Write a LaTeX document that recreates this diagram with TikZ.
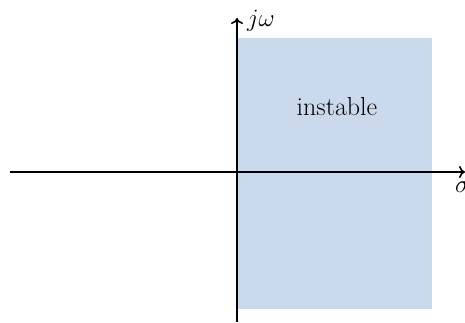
\documentclass[tikz,border=0pt]{standalone}
\usetikzlibrary{arrows.meta}
\definecolor{regionblue}{RGB}{203,217,236}
\begin{document}
\begin{tikzpicture}[x=1pt,y=1pt,
  axis/.style={line width=2.2pt,-{To[length=6pt,width=12pt,line width=1.6pt]}},
  lbl/.style={font=\fontsize{26}{30}\selectfont, inner sep=0pt}]
\useasboundingbox (0,0) rectangle (465,322);
\fill[regionblue] (237,13) rectangle (432,284);
\coordinate (xs) at (10,150);
\coordinate (xe) at (465,150);
\coordinate (ys) at (237,0);
\coordinate (ye) at (237,304);
\draw[axis] (xs) -- (xe);
\draw[axis] (ys) -- (ye);
\node[lbl] (inst) at (337,215) {instable};
\node[lbl, anchor=south west] (jw) at (247,290) {$j\omega$};
\node[lbl, anchor=north west] (sig) at (455,140) {$\sigma$};
\end{tikzpicture}
\end{document}
